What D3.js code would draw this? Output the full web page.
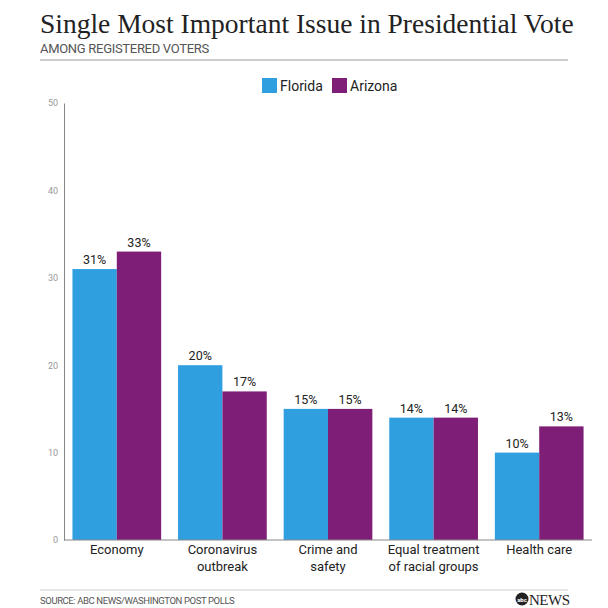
<!DOCTYPE html><html><head><meta charset="utf-8"><script src="https://cdn.jsdelivr.net/npm/d3@7"></script>
<style>body{margin:0;background:#fff}</style></head><body><svg width="608" height="608"></svg><script>
const categories=[["Economy"],["Coronavirus","outbreak"],["Crime and","safety"],["Equal treatment","of racial groups"],["Health care"]];
const florida=[31,20,15,14,10];
const arizona=[33,17,15,14,13];
const yTicks=[0,10,20,30,40,50];
const series=[{name:"Florida",values:florida,color:"#2f9fe0"},{name:"Arizona",values:arizona,color:"#7e1e76"}];
const svg=d3.select("svg");
const x=d3.scaleBand().domain(d3.range(categories.length)).range([64,592]).paddingInner(0.16).paddingOuter(0.08);
const xs=d3.scaleBand().domain([0,1]).range([0,x.bandwidth()]);
const y=d3.scaleLinear().domain([0,50]).range([540,103]);
svg.append("text").attr("x",40).attr("y",33).attr("font-family","Liberation Serif").attr("font-size",27.5).attr("fill","#222").text("Single Most Important Issue in Presidential Vote");
svg.append("text").attr("x",40).attr("y",53).attr("font-family","Roboto").attr("font-size",13).attr("fill","#555").attr("letter-spacing",-0.3).text("AMONG REGISTERED VOTERS");
svg.append("line").attr("x1",40).attr("x2",568).attr("y1",60).attr("y2",60).attr("stroke","#999");
const lg=[[262,"Florida",series[0].color],[332,"Arizona",series[1].color]];
lg.forEach(([lx,t,c])=>{svg.append("rect").attr("x",lx).attr("y",78).attr("width",15).attr("height",15).attr("fill",c);
svg.append("text").attr("x",lx+18).attr("y",91).attr("font-family","Roboto").attr("font-size",14).attr("fill","#222").text(t);});
series.forEach((s,si)=>{s.values.forEach((v,i)=>{
svg.append("rect").attr("x",x(i)+xs(si)).attr("y",y(v)).attr("width",xs.bandwidth()).attr("height",y(0)-y(v)).attr("fill",s.color);
svg.append("text").attr("x",x(i)+xs(si)+xs.bandwidth()/2).attr("y",y(v)-5).attr("text-anchor","middle").attr("font-family","Roboto").attr("font-size",12.5).attr("fill","#222").text(v+"%");});});
const ya=svg.append("g").attr("transform","translate(64,0)").call(d3.axisLeft(y).tickValues(yTicks).tickSize(0).tickPadding(6));
ya.select(".domain").attr("stroke","#888");ya.selectAll("text").attr("font-family","Roboto").attr("font-size",9).attr("fill","#999");
svg.append("line").attr("x1",64).attr("x2",592).attr("y1",540).attr("y2",540).attr("stroke","#888");
categories.forEach((c,i)=>{c.forEach((l,j)=>svg.append("text").attr("x",x(i)+x.bandwidth()/2).attr("y",554+j*17).attr("text-anchor","middle").attr("font-family","Roboto").attr("font-size",13).attr("fill","#222").text(l));});
svg.append("line").attr("x1",40).attr("x2",568).attr("y1",590).attr("y2",590).attr("stroke","#ccc");
svg.append("text").attr("x",40).attr("y",604).attr("font-family","Roboto").attr("font-size",9.5).attr("fill","#555").attr("letter-spacing",-0.4).text("SOURCE: ABC NEWS/WASHINGTON POST POLLS");
svg.append("circle").attr("cx",522).attr("cy",599).attr("r",6.5).attr("fill","#222");
svg.append("text").attr("x",522).attr("y",601.5).attr("text-anchor","middle").attr("font-family","Roboto").attr("font-weight","bold").attr("font-size",6).attr("fill","#fff").text("abc");
svg.append("text").attr("x",529).attr("y",605).attr("font-family","Liberation Serif").attr("font-size",15).attr("fill","#222").attr("letter-spacing",-0.5).text("NEWS");
</script></body></html>
